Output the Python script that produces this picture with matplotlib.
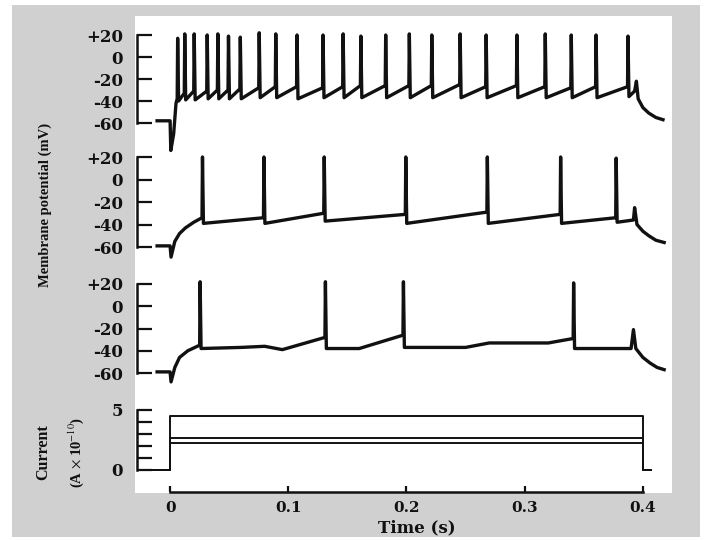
import matplotlib
matplotlib.use('Agg')
import matplotlib.pyplot as plt
from matplotlib.patches import Rectangle

# ---- values ----
# top trace (strong current)
spike_t_a = [0.006, 0.012, 0.020, 0.031, 0.040, 0.049, 0.059, 0.075, 0.089, 0.107, 0.129, 0.146,
             0.161, 0.182, 0.202, 0.221, 0.245, 0.267, 0.293, 0.317, 0.339, 0.360, 0.387]
spike_pre_a = [-38, -33, -31, -31, -30, -30, -29, -28, -27, -27, -28, -27,
               -26, -26, -26, -26, -25, -27, -26, -27, -28, -27, -27]
spike_reset_a = [-40, -39, -39, -38, -38, -38, -38, -37, -37, -38, -37, -37,
                 -37, -37, -37, -37, -37, -37, -37, -37, -37, -37, -36]
spike_peak_a = [17, 21, 21, 20, 21, 19, 18, 22, 21, 20, 20, 21,
                19, 20, 21, 20, 21, 20, 20, 21, 20, 20, 19]
extra_t_a = [-0.011, 0.0, 0.0006, 0.003, 0.005, 0.393, 0.3945, 0.396, 0.400, 0.405, 0.411, 0.417]
extra_v_a = [-58, -58, -85, -70, -42, -31, -22, -38, -46, -51, -55, -57]

# middle trace
spike_t_b = [0.027, 0.079, 0.130, 0.199, 0.268, 0.330, 0.377]
spike_pre_b = [-34, -34, -30, -31, -29, -31, -34]
spike_reset_b = [-39, -39, -37, -39, -39, -39, -38]
spike_peak_b = [20, 20, 20, 20, 20, 20, 19]
extra_t_b = [-0.011, 0.0, 0.0008, 0.004, 0.008, 0.013, 0.020, 0.392, 0.393, 0.395, 0.400, 0.405, 0.411, 0.418]
extra_v_b = [-59, -59, -69, -55, -48, -43, -38, -36, -25, -40, -46, -50, -54, -56]

# bottom trace
spike_t_c = [0.025, 0.131, 0.197, 0.341]
spike_pre_c = [-35, -28, -26, -29]
spike_reset_c = [-38, -38, -37, -38]
spike_peak_c = [22, 22, 22, 21]
extra_t_c = [-0.011, 0.0, 0.0008, 0.004, 0.008, 0.015, 0.060, 0.080, 0.095, 0.160, 0.250, 0.270, 0.320,
             0.390, 0.392, 0.394, 0.400, 0.406, 0.412, 0.418]
extra_v_c = [-59, -59, -68, -55, -46, -40, -37, -36, -39, -38, -37, -33, -33,
             -38, -21, -38, -46, -51, -55, -57]

# injected currents (A x 1e-10)
current_levels = [4.5, 2.65, 2.25]
current_on = 0.0
current_off = 0.4

mv_ticks = [-60, -40, -20, 0, 20]
mv_labels = ['-60', '-40', '-20', '0', '+20']
time_ticks = [0, 0.1, 0.2, 0.3, 0.4]
time_labels = ['0', '0.1', '0.2', '0.3', '0.4']


def build_trace(t_spk, v_pre, v_reset, v_peak, ex_t, ex_v):
    pts = list(zip(ex_t, ex_v))
    for t, pre, rst, pk in zip(t_spk, v_pre, v_reset, v_peak):
        pts += [(t, pre), (t + 0.0004, pk), (t + 0.0012, rst)]
    pts.sort()
    return [p[0] for p in pts], [p[1] for p in pts]


plt.rcParams['mathtext.fontset'] = 'stix'
tick_font = dict(family='DejaVu Serif', weight='bold', size=12)
xtick_font = dict(family='DejaVu Serif', weight='bold', size=11)
label_font = dict(family='Liberation Serif', weight='bold')
ink = '#111111'

fig = plt.figure(figsize=(7.2, 5.4), dpi=100, facecolor='white')
W, H = 720.0, 540.0

# scanned page look: grey frame with white plot area
fig.add_artist(Rectangle((12 / W, 1 - 537 / H), 688 / W, 532 / H, transform=fig.transFigure,
                         facecolor='#d0d0d0', edgecolor='none', zorder=-10))
fig.add_artist(Rectangle((135 / W, 1 - 493 / H), 537 / W, 477 / H, transform=fig.transFigure,
                         facecolor='white', edgecolor='none', zorder=-9))

xlim = (-0.028, 0.42)
left = 137 / W
width = (xlim[1] - xlim[0]) * 1182 / W

panels = [
    (123, 35, build_trace(spike_t_a, spike_pre_a, spike_reset_a, spike_peak_a, extra_t_a, extra_v_a)),
    (247, 157, build_trace(spike_t_b, spike_pre_b, spike_reset_b, spike_peak_b, extra_t_b, extra_v_b)),
    (373, 284, build_trace(spike_t_c, spike_pre_c, spike_reset_c, spike_peak_c, extra_t_c, extra_v_c)),
]

for y_bot, y_top, (tt, vv) in panels:
    ax = fig.add_axes([left, 1 - y_bot / H, width, (y_bot - y_top) / H])
    ax.set_facecolor('none')
    ax.plot(tt, vv, color=ink, lw=2.4, clip_on=False, solid_joinstyle='round')
    ax.set_xlim(*xlim)
    ax.set_ylim(-60, 20)
    for s in ['top', 'right', 'bottom']:
        ax.spines[s].set_visible(False)
    ax.spines['left'].set_linewidth(1.8)
    ax.spines['left'].set_color(ink)
    ax.set_xticks([])
    ax.set_yticks(mv_ticks)
    ax.set_yticklabels(mv_labels, fontdict=tick_font, color=ink)
    ax.tick_params(axis='y', direction='in', length=11, width=1.6, color=ink, pad=10)

# current panel
axc = fig.add_axes([left, 1 - 470 / H, width, 60 / H])
axc.set_facecolor('none')
for lvl in current_levels:
    axc.plot([-0.026, current_on, current_on, current_off, current_off, 0.407],
             [0, 0, lvl, lvl, 0, 0], color=ink, lw=1.4, clip_on=False)
axc.set_xlim(*xlim)
axc.set_ylim(0, 5)
axc.spines['top'].set_visible(False)
axc.spines['right'].set_visible(False)
axc.spines['left'].set_linewidth(1.8)
axc.spines['left'].set_color(ink)
axc.set_yticks([0, 1, 2, 3, 4, 5])
axc.set_yticklabels(['0', '', '', '', '', '5'], fontdict=tick_font, color=ink)
axc.tick_params(axis='y', direction='in', length=11, width=1.6, color=ink, pad=10)

# detached time axis
axc.spines['bottom'].set_position(('outward', 16))
axc.spines['bottom'].set_bounds(0, 0.4)
axc.spines['bottom'].set_linewidth(1.8)
axc.spines['bottom'].set_color(ink)
axc.set_xticks(time_ticks)
axc.set_xticklabels(time_labels, fontdict=xtick_font, color=ink)
axc.tick_params(axis='x', direction='in', length=4, width=1.6, color=ink, pad=6)

fig.text(417 / W, 1 - 528 / H, 'Time (s)', ha='center', va='center', color=ink,
         family='DejaVu Serif', weight='bold', size=12)
fig.text(45 / W, 1 - 205 / H, 'Membrane potential (mV)', rotation=90, ha='center', va='center',
         color=ink, size=10.5, **label_font)
fig.text(43 / W, 1 - 452 / H, 'Current', rotation=90, ha='center', va='center',
         color=ink, size=11.5, **label_font)
fig.text(76 / W, 1 - 452 / H, r'(A $\times$ 10$^{-10}$)', rotation=90, ha='center', va='center',
         color=ink, size=10.5, **label_font)

fig.savefig('out.png', dpi=100, facecolor=fig.get_facecolor())
